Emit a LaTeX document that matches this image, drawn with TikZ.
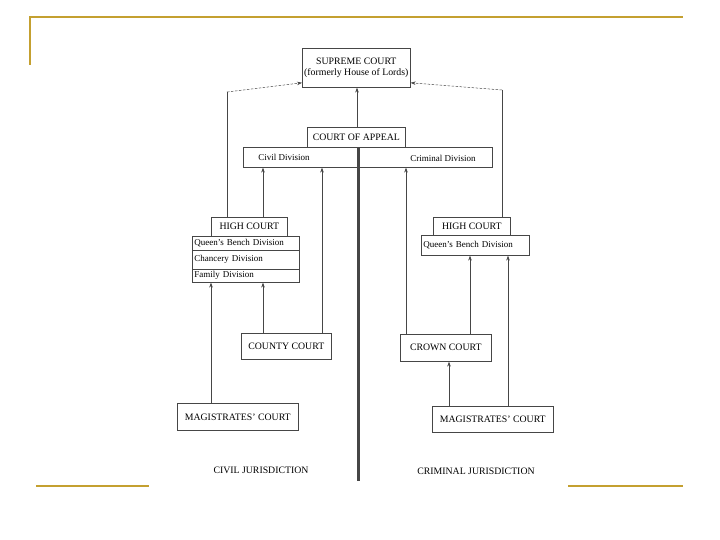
\documentclass[tikz,border=0pt]{standalone}
\usepackage{fontspec}
\setmainfont{Liberation Serif}
\usetikzlibrary{arrows.meta}
\definecolor{gold}{RGB}{196,160,48}
\definecolor{ink}{RGB}{70,70,70}
\begin{document}
\begin{tikzpicture}[x=1pt,y=-1pt,
  box/.style={draw=ink,line width=0.6pt,inner sep=0pt,anchor=north west,font=\fontsize{9.8}{11}\selectfont},
  sbox/.style={draw=ink,line width=0.6pt,inner sep=0pt,anchor=north west,font=\fontsize{9}{10}\selectfont},
  arr/.style={draw=ink,line width=0.5pt,-{Stealth[length=5pt,width=3.5pt]}},
  ln/.style={draw=ink,line width=0.5pt},
  dsh/.style={draw=ink,line width=0.5pt,dashed,dash pattern=on 2.5pt off 1.5pt,-{Stealth[length=5pt,width=3.5pt]}},
  frame/.style={draw=gold,line width=1.8pt}]
\useasboundingbox (0,0) rectangle (720,540);
% gold frame
\draw[frame] (30,65) -- (30,17) -- (683,17);
\draw[frame] (36,486) -- (149,486);
\draw[frame] (568,486) -- (683,486);
% boxes
\node[box,minimum width=108pt,minimum height=39pt,align=center] (sup) at (302,48) {SUPREME COURT\\(formerly House of Lords)};
\node[box,minimum width=98pt,minimum height=20pt] (coa) at (307,127) {COURT OF APPEAL};
\node[box,minimum width=249pt,minimum height=20pt] (div) at (243,147) {};
\node[font=\fontsize{9}{10}\selectfont] (civd) at (284,157) {Civil Division};
\node[font=\fontsize{9}{10}\selectfont] (crimd) at (443,158) {Criminal Division};
% left high court
\node[box,minimum width=76pt,minimum height=19pt] (hcl) at (211,217) {HIGH COURT};
\node[sbox,minimum width=107pt,minimum height=14pt,text width=103pt,align=left,inner xsep=2pt] (qbl) at (192,236) {Queen's Bench Division};
\node[sbox,minimum width=107pt,minimum height=19pt,text width=103pt,align=left,inner xsep=2pt] (chl) at (192,250) {Chancery Division};
\node[sbox,minimum width=107pt,minimum height=13pt,text width=103pt,align=left,inner xsep=2pt] (fdl) at (192,269) {Family Division};
% right high court
\node[box,minimum width=77pt,minimum height=18pt] (hcr) at (433,217) {HIGH COURT};
\node[sbox,minimum width=108pt,minimum height=20pt,text width=104pt,align=left,inner xsep=2pt] (qbr) at (421,235) {Queen's Bench Division};
% lower courts
\node[box,minimum width=90pt,minimum height=26pt] (cc) at (241,333) {COUNTY COURT};
\node[box,minimum width=121pt,minimum height=27pt] (mcl) at (177,403) {MAGISTRATES' COURT};
\node[box,minimum width=91pt,minimum height=27pt] (crc) at (400,334) {CROWN COURT};
\node[box,minimum width=121pt,minimum height=26pt] (mcr) at (432,406) {MAGISTRATES' COURT};
% labels
\node[font=\fontsize{9.8}{11}\selectfont] (civj) at (261,470) {CIVIL JURISDICTION};
\node[font=\fontsize{9.8}{11}\selectfont] (crij) at (476,471) {CRIMINAL JURISDICTION};
% x positions
\coordinate (x211) at (211,0);
\coordinate (x226) at (227,0);
\coordinate (x263) at (263,0);
\coordinate (x322) at (322,0);
\coordinate (x357) at (357,0);
\coordinate (x358) at (358,0);
\coordinate (x406) at (406,0);
\coordinate (x449) at (449,0);
\coordinate (x470) at (470,0);
\coordinate (x502) at (502,0);
\coordinate (x508) at (508,0);
\coordinate (lt) at (227,92);
\coordinate (rt) at (502,90);
\coordinate (lend) at (358,481);
% thick divider
\draw[ink,line width=3pt] (coa.south -| x358) -- (lend);
% connectors
\draw[arr] (coa.north -| x357) -- (sup.south -| x357);
\draw[ln] (hcl.north -| x226) -- (lt);
\draw[dsh] (lt) -- ([yshift=-15pt]sup.west);
\draw[ln] (hcr.north -| x502) -- (rt);
\draw[dsh] (rt) -- ([yshift=-15pt]sup.east);
\draw[arr] (hcl.north -| x263) -- (div.south -| x263);
\draw[arr] (mcl.north -| x211) -- (fdl.south -| x211);
\draw[arr] (cc.north -| x263) -- (fdl.south -| x263);
\draw[arr] (cc.north -| x322) -- (div.south -| x322);
\draw[arr] (crc.north -| x406) -- (div.south -| x406);
\draw[arr] (crc.north -| x470) -- (qbr.south -| x470);
\draw[arr] (mcr.north -| x508) -- (qbr.south -| x508);
\draw[arr] (mcr.north -| x449) -- (crc.south -| x449);
\end{tikzpicture}
\end{document}
